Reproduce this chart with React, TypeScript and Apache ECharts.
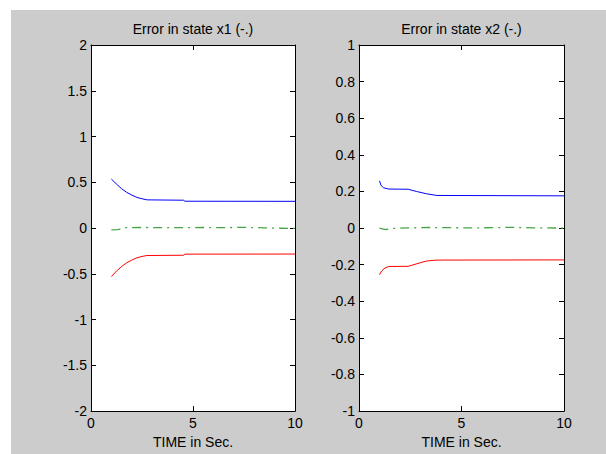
import React, { useEffect, useRef } from "react";
import * as echarts from "echarts";

// ---- Data ----
const X1_TITLE = "Error in state x1 (-.)";
const X2_TITLE = "Error in state x2 (-.)";
const X_LABEL = "TIME in Sec.";

// State x1
const X1_UPPER_T = [1, 1.25, 1.5, 1.75, 2, 2.25, 2.5, 2.75, 4.55, 4.6, 10];
const X1_UPPER_V = [0.535, 0.48, 0.43, 0.39, 0.36, 0.335, 0.32, 0.308, 0.304, 0.293, 0.292];
const X1_LOWER_T = [1, 1.25, 1.5, 1.75, 2, 2.25, 2.5, 2.75, 4.55, 4.6, 10];
const X1_LOWER_V = [-0.53, -0.47, -0.42, -0.38, -0.35, -0.325, -0.31, -0.3, -0.297, -0.285, -0.284];
const X1_ERR_T = [1, 1.3, 1.5, 1.7, 2.5, 3.5, 4.5, 5.5, 6.5, 7.5, 8.5, 9.2, 10];
const X1_ERR_V = [-0.02, -0.018, -0.01, 0.004, 0.006, 0.005, 0.004, 0.006, 0.005, 0.007, 0.003, -0.002, -0.003];

// State x2
const X2_UPPER_T = [1, 1.08, 1.2, 1.45, 2.4, 2.8, 3.3, 3.8, 10];
const X2_UPPER_V = [0.258, 0.232, 0.22, 0.213, 0.212, 0.2, 0.187, 0.178, 0.176];
const X2_LOWER_T = [1, 1.1, 1.27, 1.45, 2.4, 2.98, 3.3, 3.8, 10];
const X2_LOWER_V = [-0.255, -0.235, -0.218, -0.21, -0.209, -0.19, -0.18, -0.175, -0.174];
const X2_ERR_T = [1, 1.15, 1.3, 1.6, 2.5, 3.5, 4.5, 5.5, 6.5, 7.5, 8.5, 10];
const X2_ERR_V = [0, -0.004, -0.008, -0.002, 0.001, 0.003, 0.002, 0.001, 0.002, 0.004, 0.001, 0.0];

const X_MIN = 0;
const X_MAX = 10;
const X_STEP = 5;
const Y1_MIN = -2;
const Y1_MAX = 2;
const Y1_STEP = 0.5;
const Y2_MIN = -1;
const Y2_MAX = 1;
const Y2_STEP = 0.2;

const zip = (t: number[], v: number[]) => t.map((x, i) => [x, v[i]]);

const FONT = 'Arial, "Liberation Sans", sans-serif';
const AXIS_COLOR = "#000";
const FS = 14;

export default function App() {
  const ref = useRef<HTMLDivElement>(null);

  useEffect(() => {
    if (!ref.current) return;
    const chart = echarts.init(ref.current, undefined, { renderer: "svg" });

    const xAxisBase = (gridIndex: number, position: "top" | "bottom", name: string, nameGap: number, showLabel: boolean) => ({
      type: "value",
      gridIndex,
      position,
      min: X_MIN,
      max: X_MAX,
      interval: X_STEP,
      name,
      nameLocation: "middle",
      nameGap,
      nameTextStyle: { color: "#000", fontSize: FS, fontFamily: FONT },
      axisLine: { show: true, onZero: false, lineStyle: { color: AXIS_COLOR, width: 1 } },
      axisTick: { show: true, inside: true, length: 5, lineStyle: { color: AXIS_COLOR } },
      axisLabel: { show: showLabel, color: "#000", fontSize: FS, fontFamily: FONT, margin: 5 },
      splitLine: { show: false },
    });

    const yAxisBase = (gridIndex: number, position: "left" | "right", min: number, max: number, step: number, showLabel: boolean) => ({
      type: "value",
      gridIndex,
      position,
      min,
      max,
      interval: step,
      axisLine: { show: true, onZero: false, lineStyle: { color: AXIS_COLOR, width: 1 } },
      axisTick: { show: true, inside: true, length: 5, lineStyle: { color: AXIS_COLOR } },
      axisLabel: { show: showLabel, color: "#000", fontSize: FS, fontFamily: FONT, margin: 4 },
      splitLine: { show: false },
    });

    const line = (data: number[][], color: string, xi: number, yi: number, dashed = false) => ({
      type: "line",
      xAxisIndex: xi,
      yAxisIndex: yi,
      data,
      showSymbol: false,
      symbol: "none",
      smooth: false,
      lineStyle: { color, width: dashed ? 1.3 : 1, type: dashed ? [9, 5, 2, 5] : "solid" },
      silent: true,
    });

    chart.setOption({
      animation: false,
      backgroundColor: "#cccccc",
      grid: [
        { left: 80, top: 35, width: 204, height: 367, backgroundColor: "#fff", show: true, borderWidth: 0 },
        { left: 348, top: 35, width: 205, height: 367, backgroundColor: "#fff", show: true, borderWidth: 0 },
      ],
      xAxis: [
        xAxisBase(0, "bottom", X_LABEL, 22, true),
        xAxisBase(0, "top", X1_TITLE, 9, false),
        xAxisBase(1, "bottom", X_LABEL, 22, true),
        xAxisBase(1, "top", X2_TITLE, 9, false),
      ],
      yAxis: [
        yAxisBase(0, "left", Y1_MIN, Y1_MAX, Y1_STEP, true),
        yAxisBase(0, "right", Y1_MIN, Y1_MAX, Y1_STEP, false),
        yAxisBase(1, "left", Y2_MIN, Y2_MAX, Y2_STEP, true),
        yAxisBase(1, "right", Y2_MIN, Y2_MAX, Y2_STEP, false),
      ],
      series: [
        line(zip(X1_UPPER_T, X1_UPPER_V), "#0000ff", 0, 0),
        line(zip(X1_LOWER_T, X1_LOWER_V), "#ff0000", 0, 0),
        line(zip(X1_ERR_T, X1_ERR_V), "#45a545", 0, 0, true),
        line(zip(X2_UPPER_T, X2_UPPER_V), "#0000ff", 2, 2),
        line(zip(X2_LOWER_T, X2_LOWER_V), "#ff0000", 2, 2),
        line(zip(X2_ERR_T, X2_ERR_V), "#45a545", 2, 2, true),
      ],
    });

    return () => chart.dispose();
  }, []);

  return (
    <div
      ref={ref}
      style={{ position: "fixed", left: 11, top: 10, width: 595, height: 444 }}
    />
  );
}
